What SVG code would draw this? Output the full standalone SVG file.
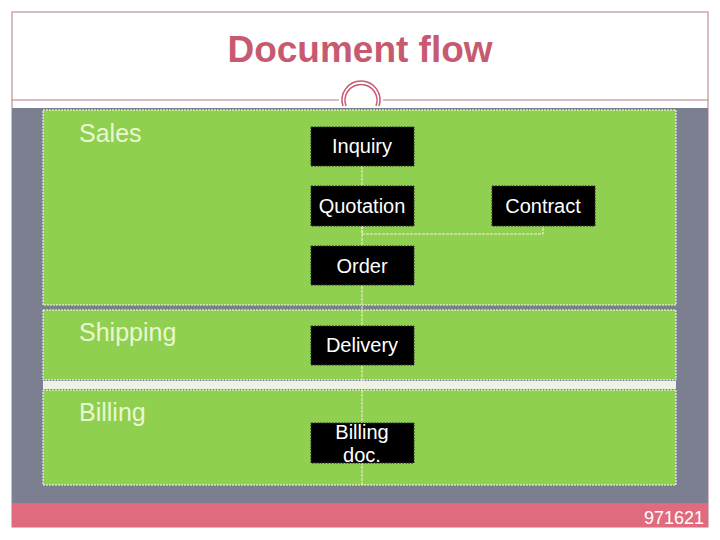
<svg xmlns="http://www.w3.org/2000/svg" width="720" height="540" viewBox="0 0 720 540">
<style>
text{font-family:"Liberation Sans",Arial,sans-serif}
.panel{fill:#90d050;stroke:#ffffff;stroke-width:1;stroke-dasharray:2 1}
.node rect{fill:#000000;stroke:#333;stroke-width:1;stroke-dasharray:2 1}
.node text{fill:#ffffff;font-size:20px;text-anchor:middle}
.lane{fill:#eaf7d0;font-size:25px}
.conn{fill:none;stroke:#f4f7c8;stroke-width:1;stroke-dasharray:3 1}
</style>
<rect x="0" y="0" width="720" height="540" fill="#ffffff"/>
<rect x="12" y="12" width="696" height="515" fill="#ffffff" stroke="#b47a88" stroke-width="1"/>
<text x="360" y="62" font-size="37" font-weight="bold" fill="#c75a70" text-anchor="middle">Document flow</text>
<g id="ornament" fill="none" stroke="#c75a70">
<path d="M12 100H339M383 100H708" stroke="#b47a88" stroke-width="1"/>
<path d="M343 106A19 19 0 1 1 379 106" stroke-width="1.5"/>
<path d="M346 106A16 16 0 1 1 376 106" stroke-width="1.5"/>
</g>
<rect x="12" y="108" width="696" height="395" fill="#7b7f90"/>
<rect x="12" y="503" width="696" height="24" fill="#e16b7e"/>
<text x="704" y="524" font-size="18" fill="#ffffff" text-anchor="end">971621</text>
<g id="lanes">
<rect class="panel" x="43" y="110" width="633" height="195"/>
<rect class="panel" x="43" y="310" width="633" height="70"/>
<rect x="43" y="381" width="633" height="8" fill="#eef2e6"/>
<rect class="panel" x="43" y="390" width="633" height="95"/>
<text class="lane" x="79" y="142">Sales</text>
<text class="lane" x="79" y="341">Shipping</text>
<text class="lane" x="79" y="421">Billing</text>
</g>
<g id="connectors">
<path class="conn" d="M362 166V486"/>
<path class="conn" d="M362 226V234H543V226"/>
</g>
<g id="inquiry" class="node"><rect x="311" y="127" width="103" height="39"/><text x="362" y="153">Inquiry</text></g>
<g id="quotation" class="node"><rect x="311" y="186" width="103" height="40"/><text x="362" y="213">Quotation</text></g>
<g id="contract" class="node"><rect x="492" y="186" width="103" height="40"/><text x="543" y="213">Contract</text></g>
<g id="order" class="node"><rect x="311" y="246" width="103" height="39"/><text x="362" y="273">Order</text></g>
<g id="delivery" class="node"><rect x="311" y="326" width="103" height="39"/><text x="362" y="352">Delivery</text></g>
<g id="billingdoc" class="node"><rect x="311" y="423" width="103" height="40"/><text x="362" y="439">Billing</text><text x="362" y="462">doc.</text></g>
</svg>
